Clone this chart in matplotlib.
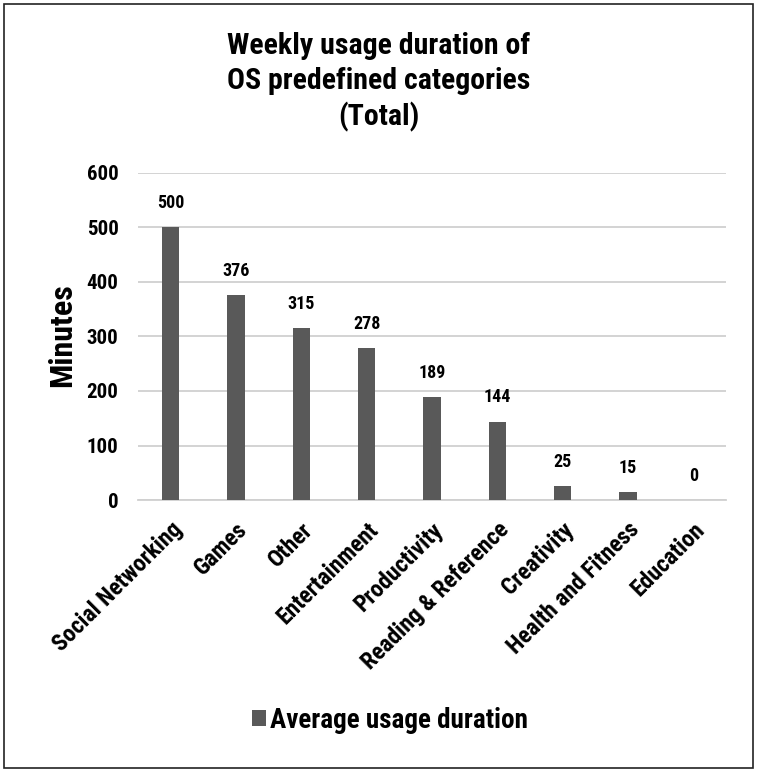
import matplotlib
matplotlib.use("Agg")
import matplotlib.pyplot as plt
from matplotlib.patches import Rectangle

categories = ["Social Networking", "Games", "Other", "Entertainment", "Productivity",
              "Reading & Reference", "Creativity", "Health and Fitness", "Education"]
values = [500, 376, 315, 278, 189, 144, 25, 15, 0]
series_name = "Average usage duration"
title = "Weekly usage duration of\nOS predefined categories\n(Total)"
y_ticks = [0, 100, 200, 300, 400, 500, 600]

plt.rcParams['font.family'] = ['Roboto Condensed', 'DejaVu Sans']
plt.rcParams['font.weight'] = 'bold'

fig = plt.figure(figsize=(7.57, 7.72), dpi=100)
ax = fig.add_axes([138/757, 1-500/772, (726-138)/757, (500-173)/772])

x = list(range(len(categories)))
bars = ax.bar(x, values, width=0.27, color="#595959", zorder=3, label=series_name)
ax.set_xlim(-0.5, len(categories)-0.5)
ax.set_ylim(0, 600)
ax.set_yticks(y_ticks)
ax.set_yticklabels([str(t) for t in y_ticks], fontsize=15, fontweight='bold')
ax.yaxis.grid(True, color="#d0d0d0", linewidth=1.3, zorder=0)
ax.set_axisbelow(True)
for s in ["top", "right", "left"]:
    ax.spines[s].set_visible(False)
ax.spines["bottom"].set_color("#d0d0d0")
ax.spines["bottom"].set_linewidth(1.3)
ax.tick_params(axis='y', length=0, pad=14)
ax.tick_params(axis='x', length=0, pad=13)
ax.set_xticks(x)
ax.set_xticklabels(categories, rotation=45, ha='right', rotation_mode='anchor',
                   fontsize=17, fontweight='bold')
ax.set_ylabel("Minutes", fontsize=23, fontweight='bold')
ax.yaxis.set_label_coords((62 - 138) / 588, 0.505)
ax.yaxis.label.set_va('center')
ax.yaxis.label.set_ha('center')

for xi, v in zip(x, values):
    ax.annotate(str(v), (xi, v), xytext=(0, 11), textcoords='offset points',
                ha='center', va='bottom', fontsize=13, fontweight='bold')

fig.text(0.5, 1-82/772, title, ha='center', va='center', fontsize=21.5,
         fontweight='bold', linespacing=1.32)

leg = fig.legend(handles=[bars], labels=[series_name], loc='center',
                 bbox_to_anchor=(0.515, 1-720/772), frameon=False,
                 prop={'size': 19.5, 'weight': 'bold'}, handlelength=0.5,
                 handleheight=0.5, handletextpad=0.15)

fig.patches.append(Rectangle((4/757, 4/772), 749/757, 764/772, transform=fig.transFigure,
                             fill=False, edgecolor='#222222', linewidth=1.2))

fig.savefig("out.png", dpi=100, facecolor='white')
